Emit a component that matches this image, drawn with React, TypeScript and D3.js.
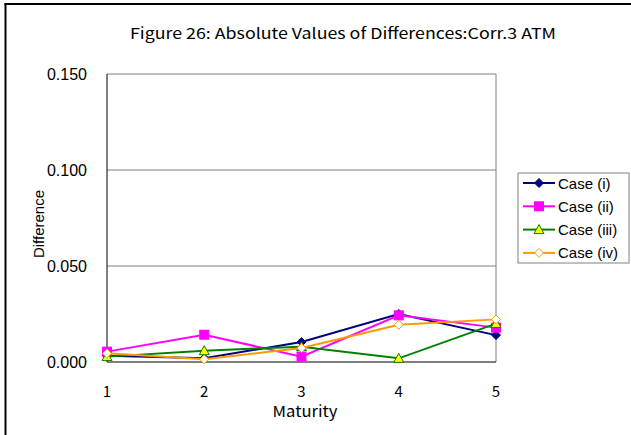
import React from "react";
import * as d3 from "d3";

const maturities = [1, 2, 3, 4, 5];
const caseI = [0.0033, 0.002, 0.0104, 0.025, 0.014];
const caseII = [0.0054, 0.0142, 0.0028, 0.0243, 0.0179];
const caseIII = [0.0028, 0.0059, 0.008, 0.0019, 0.02];
const caseIV = [0.0045, 0.0014, 0.0073, 0.0194, 0.0222];
const seriesNames = ["Case (i)", "Case (ii)", "Case (iii)", "Case (iv)"];
const yTicks = [0, 0.05, 0.1, 0.15];

const W = 631, H = 435;
const L = 107, R = 496, T = 74, B = 362;

export default function App() {
  const x = d3.scaleLinear().domain([1, 5]).range([L, R]);
  const y = d3.scaleLinear().domain([0, 0.15]).range([B, T]);
  const line = d3.line<number>().x((_, i) => x(maturities[i])).y((d) => y(d));
  const series = [
    { name: seriesNames[0], values: caseI, color: "#000080", marker: "diamond" },
    { name: seriesNames[1], values: caseII, color: "#FF00FF", marker: "square" },
    { name: seriesNames[2], values: caseIII, color: "#008000", marker: "triangle" },
    { name: seriesNames[3], values: caseIV, color: "#FF9900", marker: "odiamond" },
  ];
  const marker = (m: string, cx: number, cy: number, color: string, key: any) => {
    if (m === "diamond")
      return <path key={key} d={`M${cx},${cy - 4.5}L${cx + 4.5},${cy}L${cx},${cy + 4.5}L${cx - 4.5},${cy}Z`} fill={color} stroke={color} strokeWidth={1} />;
    if (m === "square")
      return <rect key={key} x={cx - 4.5} y={cy - 4.5} width={9} height={9} fill={color} stroke={color} />;
    if (m === "triangle")
      return <path key={key} d={`M${cx},${cy - 5}L${cx + 5},${cy + 4}L${cx - 5},${cy + 4}Z`} fill="#FFFF00" stroke={color} strokeWidth={1} />;
    return <path key={key} d={`M${cx},${cy - 4.5}L${cx + 4.5},${cy}L${cx},${cy + 4.5}L${cx - 4.5},${cy}Z`} fill="#fff" stroke={color} strokeWidth={1} />;
  };
  const fmt = d3.format(".3f");
  const legX = 518, legY = 173, legRow = 23.3;
  return (
    <svg width={W} height={H} style={{ position: "absolute", left: 0, top: 0, display: "block" }}>
      <rect x={0} y={0} width={W} height={H} fill="#fff" />
      <line x1={4.5} x2={W} y1={4} y2={4} stroke="#000" strokeWidth={2} />
      <line x1={5.5} x2={5.5} y1={3} y2={H} stroke="#000" strokeWidth={2} />
      <text x={343} y={39} textAnchor="middle" fontFamily="'Noto Sans CJK JP', sans-serif" fontSize={15} fill="#000" textLength={426} lengthAdjust="spacingAndGlyphs">
        Figure 26: Absolute Values of Differences:Corr.3 ATM
      </text>
      {yTicks.map((t) => (
        <g key={t}>
          {t > 0 && <line x1={L} x2={R} y1={y(t)} y2={y(t)} stroke="#808080" strokeWidth={1} />}
          <text x={87} y={y(t) + 6} textAnchor="end" fontFamily="'Liberation Sans', Arial, sans-serif" fontSize={16} fill="#000">
            {fmt(t)}
          </text>
        </g>
      ))}
      <line x1={R} x2={R} y1={T} y2={B} stroke="#808080" strokeWidth={1} />
      <line x1={L} x2={L} y1={T} y2={B} stroke="#000" strokeWidth={1} />
      <line x1={L} x2={R} y1={B} y2={B} stroke="#000" strokeWidth={1} />
      {maturities.map((m) => (
        <text key={m} x={x(m)} y={397} textAnchor="middle" fontFamily="'Noto Sans CJK JP', sans-serif" fontSize={15} fill="#000">
          {m}
        </text>
      ))}
      <text x={305} y={417} textAnchor="middle" fontFamily="'Noto Sans CJK JP', sans-serif" fontSize={15} fill="#000" textLength={65} lengthAdjust="spacingAndGlyphs">
        Maturity
      </text>
      <text transform={`translate(44,224) rotate(-90)`} textAnchor="middle" fontFamily="'Liberation Sans', Arial, sans-serif" fontSize={15} fill="#000">
        Difference
      </text>
      {series.map((s) => (
        <g key={s.name}>
          <path d={line(s.values) || ""} fill="none" stroke={s.color} strokeWidth={2} />
          {s.values.map((v, i) => marker(s.marker, x(maturities[i]), y(v), s.color, i))}
        </g>
      ))}
      <rect x={legX} y={legY} width={111} height={90} fill="#fff" stroke="#808080" strokeWidth={1} />
      {series.map((s, i) => {
        const cy = legY + 10 + i * legRow;
        return (
          <g key={s.name}>
            <line x1={legX + 5} x2={legX + 37} y1={cy} y2={cy} stroke={s.color} strokeWidth={2} />
            {marker(s.marker, legX + 21, cy, s.color, "m")}
            <text x={legX + 40} y={cy + 5.5} fontFamily="'Liberation Sans', Arial, sans-serif" fontSize={15} fill="#000">
              {s.name}
            </text>
          </g>
        );
      })}
    </svg>
  );
}
